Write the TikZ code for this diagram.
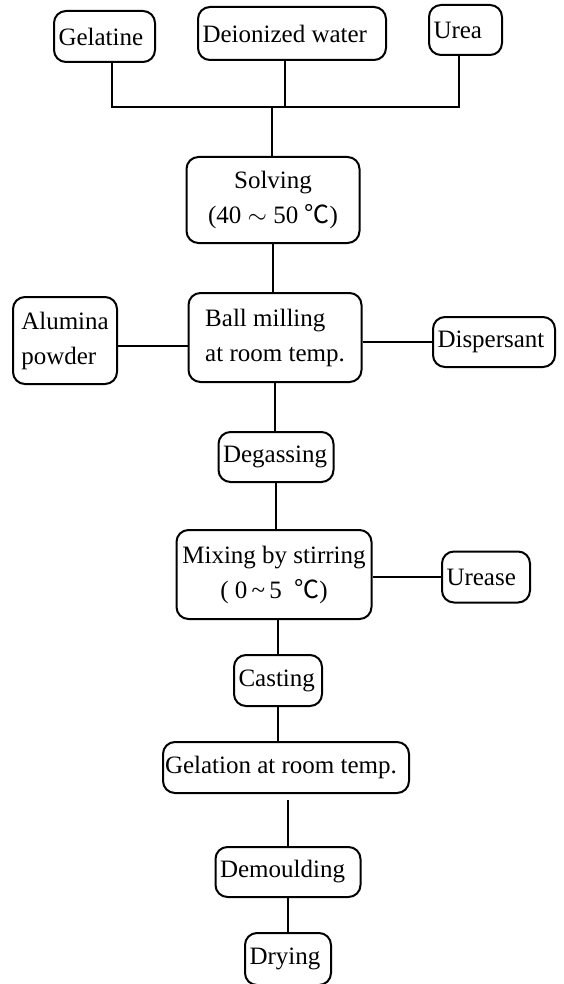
\documentclass[tikz,border=0pt]{standalone}
\usepackage{fontspec}
\setmainfont{Liberation Serif}
\newfontfamily\cjkfont{Noto Sans CJK SC}
\usetikzlibrary{
  positioning,
}
\newcommand{\degC}{{\cjkfont ℃}}
\tikzset{
  flow box/.style = {
    draw,
    rounded corners=12pt,
    line width=2pt,
    inner xsep=4.5pt,
    inner ysep=0pt,
    align=center,
    font=\fontsize{25}{35}\selectfont
  },
  left box/.style = {
    flow box,
    align=flush left,
    text width=#1
  },
  flow line/.style = {
    draw,
    line width=2pt
  },
}

\begin{document}
\begin{tikzpicture}[x=1pt, y=-1pt]
  \useasboundingbox (0,0) rectangle (563,984);
  %% raw materials
  \node (gel)   [left box=92pt,  minimum height=51pt] at (104.5,36.5) {Gelatine};
  \node (water) [left box=179pt, minimum height=53pt] at (292,33.5)   {Deionized water};
  \node (urea)  [left box=64pt,  minimum height=50pt] at (465.5,30)   {Urea};
  %% main line
  \node (solv)  [flow box, minimum width=173pt, minimum height=86pt] at (273,200)   {Solving\\(40 $\sim$ 50 \degC)};
  \node (ball)  [flow box, align=left, minimum width=173pt, minimum height=89pt] at (275,337.5) {Ball milling\\at room temp.};
  \node (degas) [left box=106pt, minimum height=50pt] at (276,457)    {Degassing};
  \node (mix)   [flow box, minimum width=195pt, minimum height=89pt] at (274,574.5) {Mixing by stirring\\( 0\,\textasciitilde\,5 \ \degC)};
  \node (cast)  [left box=79pt,  minimum height=51pt] at (278,680.5)  {Casting};
  \node (gelat) [left box=242pt, inner xsep=2pt, minimum height=51pt] at (286,767.5) {Gelation at room temp.};
  \node (demo)  [left box=136pt, minimum height=50pt] at (288,872)    {Demoulding};
  \node (dry)   [left box=77pt,  minimum height=52pt] at (288,959)    {Drying};
  %% side inputs
  \node (alum)  [flow box, align=left, minimum width=104pt, minimum height=87pt] at (65,340.5) {Alumina\\powder};
  \node (disp)  [left box=113pt, minimum height=50pt] at (494,342)    {Dispersant};
  \node (urease)[left box=79pt,  minimum height=51pt] at (486,577)    {Urease};
  %% joining the raw materials
  \coordinate (bus) at (272,107);
  \draw[flow line] ([xshift=7.5pt]gel.south) |- ([xshift=-6.5pt]urea.south |- bus) -- ([xshift=-6.5pt]urea.south);
  \draw[flow line] ([xshift=-7pt]water.south) -- ([xshift=-7pt]water.south |- bus);
  \draw[flow line] (bus) -- (bus |- solv.north);
  %% main connectors
  \draw[flow line] (solv.south) -- (solv.south |- ball.north);
  \draw[flow line] (ball.south) -- (ball.south |- degas.north);
  \draw[flow line] (degas.south) -- (degas.south |- mix.north);
  \draw[flow line] (cast.north |- mix.south) -- (cast.north);
  \draw[flow line] (cast.south) -- (cast.south |- gelat.north);
  \draw[flow line, shorten <=6pt] (demo.north |- gelat.south) -- (demo.north);
  \draw[flow line] (demo.south) -- (demo.south |- dry.north);
  %% side connectors
  \draw[flow line] ([yshift=-5.5pt]alum.east) -- ([yshift=-5.5pt]alum.east -| ball.west);
  \draw[flow line] (disp.west) -- (disp.west -| ball.east);
  \draw[flow line] (urease.west) -- (urease.west -| mix.east);
\end{tikzpicture}
\end{document}
